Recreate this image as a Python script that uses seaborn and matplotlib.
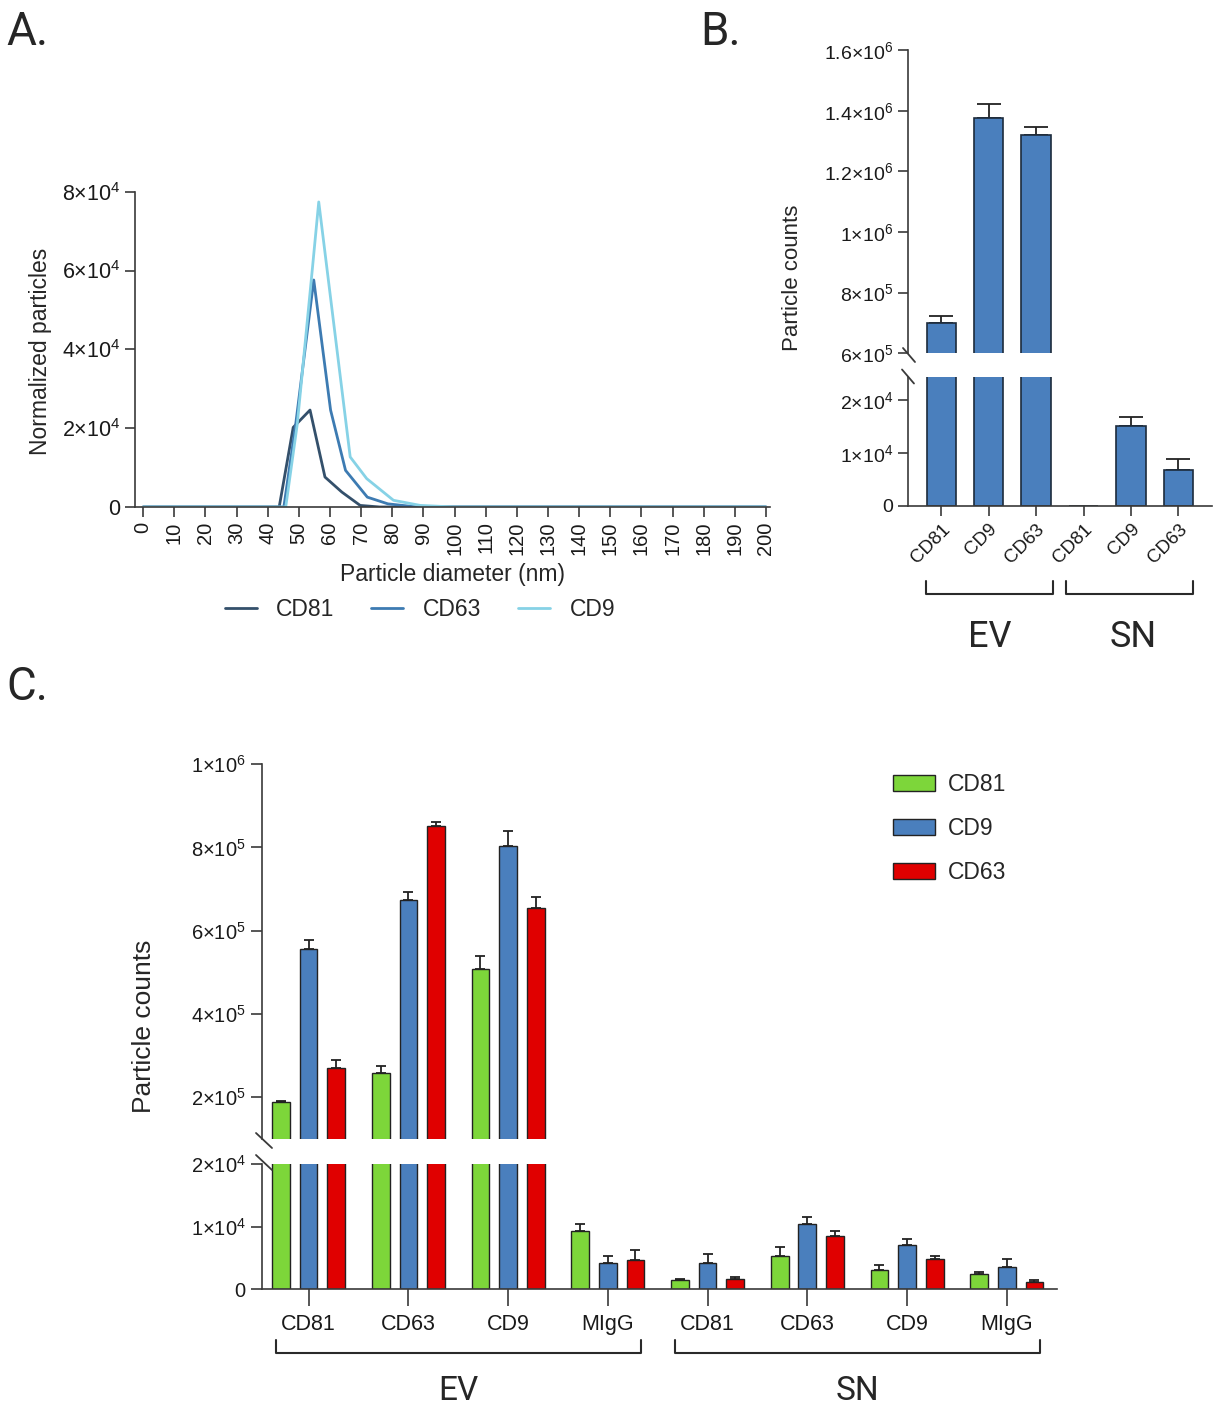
import numpy as np
import pandas as pd
import matplotlib
matplotlib.use("Agg")
import matplotlib.pyplot as plt
from matplotlib.lines import Line2D
import matplotlib.transforms as mtransforms
import seaborn as sns

# ---------------- Panel A data (NTA size distribution) ----------------
a_markers = ["CD81", "CD63", "CD9"]
cd81_diam = [0, 43.7, 48.2, 53.6, 58.4, 63.8, 69.7, 76, 200]
cd81_particles = [0, 0, 20200, 24600, 7600, 3800, 400, 0, 0]
cd63_diam = [0, 45.2, 49.0, 54.8, 60.2, 65.0, 72.0, 78.6, 88, 200]
cd63_particles = [0, 0, 21000, 57600, 24600, 9300, 2500, 800, 0, 0]
cd9_diam = [0, 45.8, 49.5, 54.3, 56.4, 66.5, 71.8, 80.4, 89, 100, 200]
cd9_particles = [0, 0, 21000, 60000, 77400, 12700, 7200, 1700, 400, 0, 0]
a_xticks = list(range(0, 201, 10))
a_yticks = [0, 20000, 40000, 60000, 80000]
a_ylabels = ["0", r"$2{\times}10^{4}$", r"$4{\times}10^{4}$", r"$6{\times}10^{4}$", r"$8{\times}10^{4}$"]

# ---------------- Panel B data ----------------
b_groups = ["EV", "EV", "EV", "SN", "SN", "SN"]
b_labels = ["CD81", "CD9", "CD63", "CD81", "CD9", "CD63"]
b_counts = [7.0e5, 1.375e6, 1.321e6, 0, 1.52e4, 6.8e3]
b_err = [2.2e4, 4.7e4, 2.6e4, 0, 1.6e3, 2.1e3]
b_top_ticks = [6e5, 8e5, 1e6, 1.2e6, 1.4e6, 1.6e6]
b_top_labels = [r"$6{\times}10^{5}$", r"$8{\times}10^{5}$", r"$1{\times}10^{6}$",
                r"$1.2{\times}10^{6}$", r"$1.4{\times}10^{6}$", r"$1.6{\times}10^{6}$"]
b_bot_ticks = [0, 1e4, 2e4]
b_bot_labels = ["0", r"$1{\times}10^{4}$", r"$2{\times}10^{4}$"]

# ---------------- Panel C data ----------------
c_groups = ["EV"] * 4 + ["SN"] * 4
c_targets = ["CD81", "CD63", "CD9", "MIgG", "CD81", "CD63", "CD9", "MIgG"]
c_markers = ["CD81", "CD9", "CD63"]
c_cd81 = [1.87e5, 2.57e5, 5.08e5, 9330, 1500, 5330, 3150, 2450]
c_cd81_err = [3e3, 1.7e4, 3.1e4, 1120, 150, 1500, 750, 320]
c_cd9 = [5.55e5, 6.74e5, 8.03e5, 4200, 4160, 10400, 7040, 3630]
c_cd9_err = [2.2e4, 2.0e4, 3.6e4, 1100, 1490, 1100, 960, 1270]
c_cd63 = [2.70e5, 8.52e5, 6.54e5, 4640, 1600, 8530, 4800, 1230]
c_cd63_err = [1.9e4, 9e3, 2.8e4, 1710, 300, 750, 530, 210]
c_top_ticks = [2e5, 4e5, 6e5, 8e5, 1e6]
c_top_labels = [r"$2{\times}10^{5}$", r"$4{\times}10^{5}$", r"$6{\times}10^{5}$",
                r"$8{\times}10^{5}$", r"$1{\times}10^{6}$"]
c_bot_ticks = [0, 1e4, 2e4]
c_bot_labels = ["0", r"$1{\times}10^{4}$", r"$2{\times}10^{4}$"]

# ---------------- style ----------------
sns.set_theme(style="ticks")
plt.rcParams["font.family"] = ["Liberation Sans", "DejaVu Sans"]
AXC = "#3a3a3a"
plt.rcParams.update({
    "mathtext.fontset": "custom",
    "mathtext.rm": "Liberation Sans",
    "mathtext.it": "Liberation Sans",
    "mathtext.bf": "Liberation Sans:bold",
    "axes.edgecolor": AXC, "axes.linewidth": 1.2,
    "xtick.color": AXC, "ytick.color": AXC,
    "xtick.labelcolor": "#1a1a1a", "ytick.labelcolor": "#1a1a1a",
    "xtick.major.width": 1.2, "ytick.major.width": 1.2,
})

W, H = 1221, 1408
fig = plt.figure(figsize=(W / 100, H / 100), dpi=100)


def fx(px):
    return px / W


def fy(py):
    return 1 - py / H


def add_axes_px(left, top, right, bottom):
    return fig.add_axes([fx(left), fy(bottom), (right - left) / W, (bottom - top) / H])


def break_mark(xc, yc, half_w=6, half_h=7):
    fig.add_artist(Line2D([fx(xc - half_w), fx(xc + half_w)], [fy(yc - half_h), fy(yc + half_h)],
                          transform=fig.transFigure, color=AXC, lw=1.3))


def add_error_bars(ax, container, errs, capsize, color="#222222"):
    for patch, e in zip(container.patches, errs):
        if e <= 0:
            continue
        x = patch.get_x() + patch.get_width() / 2
        h = patch.get_height()
        ax.errorbar([x], [h], yerr=[[0], [e]], fmt="none", ecolor=color,
                    elinewidth=1.3, capsize=capsize, capthick=1.3, zorder=0.5)


def bracket(ax, x0, x1, y_line, y_tip):
    tr = mtransforms.blended_transform_factory(ax.transData, fig.transFigure)
    ax.plot([x0, x0, x1, x1], [fy(y_tip), fy(y_line), fy(y_line), fy(y_tip)],
            transform=tr, color="#2a2a2a", lw=1.5, clip_on=False)


# ================= Panel A =================
axA = add_axes_px(135, 191.7, 770, 507)
dfA = pd.concat([
    pd.DataFrame({"diameter": cd81_diam, "particles": cd81_particles, "marker": "CD81"}),
    pd.DataFrame({"diameter": cd63_diam, "particles": cd63_particles, "marker": "CD63"}),
    pd.DataFrame({"diameter": cd9_diam, "particles": cd9_particles, "marker": "CD9"}),
], ignore_index=True)
palA = {"CD81": "#34506b", "CD63": "#3d7bb2", "CD9": "#86d2e6"}
sns.lineplot(data=dfA, x="diameter", y="particles", hue="marker", hue_order=a_markers,
             palette=palA, estimator=None, sort=False, lw=2.0, ax=axA, legend=False)
axA.set_xlim(-2.6, 201.3)
axA.set_ylim(0, 80000)
axA.set_xticks(a_xticks)
axA.set_xticklabels([str(t) for t in a_xticks], rotation=90, fontsize=14.5)
axA.set_yticks(a_yticks)
axA.set_yticklabels(a_ylabels, fontsize=15.5)
axA.tick_params(axis="both", length=7)
axA.set_xlabel("Particle diameter (nm)", fontsize=16.5, labelpad=6)
axA.set_ylabel("")
sns.despine(ax=axA)
fig.text(fx(41), fy(351), "Normalized particles", rotation=90, ha="center", va="center", fontsize=16.5)
axA.legend(handles=axA.lines[:3], labels=a_markers, loc="center",
           bbox_to_anchor=(fx(420), fy(610)), bbox_transform=fig.transFigure,
           ncol=3, frameon=False, fontsize=16.5, handlelength=1.4, columnspacing=1.6,
           handletextpad=0.85)

# ================= Panel B =================
dfB = pd.DataFrame({"key": [g + " " + l for g, l in zip(b_groups, b_labels)],
                    "count": b_counts})
BCOL = "#4a7fbd"
axBt = add_axes_px(908, 50, 1211.7, 353.3)
axBb = add_axes_px(908, 376.7, 1211.7, 506)
for ax in (axBt, axBb):
    sns.barplot(data=dfB, x="key", y="count", color=BCOL, width=0.62, errorbar=None,
                edgecolor="#1d2b3c", linewidth=1.2, saturation=1, ax=ax)
    add_error_bars(ax, ax.containers[0], b_err, capsize=8.3)
    ax.set_xlim(-0.7, 5.7)
    ax.set_xlabel("")
    ax.set_ylabel("")
    ax.tick_params(axis="both", length=7)
axBt.set_ylim(6e5, 1.6e6)
axBt.set_yticks(b_top_ticks)
axBt.set_yticklabels(b_top_labels, fontsize=14)
axBt.set_xticks([])
for s in ("top", "right", "bottom"):
    axBt.spines[s].set_visible(False)
axBb.set_ylim(0, 2.45e4)
axBb.set_yticks(b_bot_ticks)
axBb.set_yticklabels(b_bot_labels, fontsize=14)
axBb.set_xticks(range(len(b_labels)))
axBb.set_xticklabels(b_labels, rotation=45, ha="right", rotation_mode="anchor", fontsize=13.5)
for s in ("top", "right"):
    axBb.spines[s].set_visible(False)
break_mark(909, 355)
break_mark(908, 376.5)
fig.text(fx(792), fy(278), "Particle counts", rotation=90, ha="center", va="center", fontsize=16)
bracket(axBb, -0.32, 2.35, 594.3, 581)
bracket(axBb, 2.63, 5.3, 594.3, 581)
trB = mtransforms.blended_transform_factory(axBb.transData, fig.transFigure)
axBb.text(1.03, fy(646.7), "EV", transform=trB, ha="center", va="baseline", fontsize=26, family="Roboto")
axBb.text(4.04, fy(646.7), "SN", transform=trB, ha="center", va="baseline", fontsize=26, family="Roboto")

# ================= Panel C =================
rows = []
for i, (g, t) in enumerate(zip(c_groups, c_targets)):
    key = g + " " + t
    rows.append((key, "CD81", c_cd81[i]))
    rows.append((key, "CD9", c_cd9[i]))
    rows.append((key, "CD63", c_cd63[i]))
dfC = pd.DataFrame(rows, columns=["key", "marker", "count"])
palC = {"CD81": "#7dd63a", "CD9": "#4a7fbd", "CD63": "#e00000"}
c_errs = {"CD81": c_cd81_err, "CD9": c_cd9_err, "CD63": c_cd63_err}
axCt = add_axes_px(261.7, 764.3, 1056.7, 1138.6)
axCb = add_axes_px(261.7, 1164.3, 1056.7, 1289.3)
for ax in (axCt, axCb):
    sns.barplot(data=dfC, x="key", y="count", hue="marker", hue_order=c_markers,
                palette=palC, width=0.83, gap=0.36, errorbar=None, saturation=1,
                edgecolor="#222222", linewidth=1.0, ax=ax)
    for cont, m in zip(ax.containers, c_markers):
        add_error_bars(ax, cont, c_errs[m], capsize=3.3)
    ax.set_xlim(-0.47, 7.5)
    ax.set_xlabel("")
    ax.set_ylabel("")
    ax.tick_params(axis="both", length=8)
axCt.set_ylim(1e5, 1e6)
axCt.set_yticks(c_top_ticks)
axCt.set_yticklabels(c_top_labels, fontsize=14.5)
axCt.set_xticks([])
for s in ("top", "right", "bottom"):
    axCt.spines[s].set_visible(False)
axCb.set_ylim(0, 2e4)
axCb.set_yticks(c_bot_ticks)
axCb.set_yticklabels(c_bot_labels, fontsize=14.5)
axCb.set_xticks(range(len(c_targets)))
axCb.set_xticklabels(c_targets, fontsize=15.5)
axCb.tick_params(axis="x", length=12, pad=6)
for s in ("top", "right"):
    axCb.spines[s].set_visible(False)
axCb.get_legend().remove()
leg = axCt.get_legend()
handles = leg.legend_handles
leg.remove()
axCt.legend(handles=handles, labels=c_markers, loc="upper left",
            bbox_to_anchor=(fx(893), fy(773)), bbox_transform=fig.transFigure,
            frameon=False, fontsize=16.5, handlelength=1.85, handleheight=0.7,
            handletextpad=0.55, labelspacing=0.92, borderpad=0, borderaxespad=0)
break_mark(264, 1140.5, 8, 7.5)
break_mark(264, 1162.5, 8, 7.5)
fig.text(fx(144), fy(1026), "Particle counts", rotation=90, ha="center", va="center", fontsize=19)
bracket(axCb, -0.33, 3.33, 1352.7, 1340)
bracket(axCb, 3.67, 7.33, 1352.7, 1340)
trC = mtransforms.blended_transform_factory(axCb.transData, fig.transFigure)
axCb.text(1.5, fy(1400), "EV", transform=trC, ha="center", va="baseline", fontsize=24, family="Roboto")
axCb.text(5.5, fy(1400), "SN", transform=trC, ha="center", va="baseline", fontsize=24, family="Roboto")

# panel letters
fig.text(fx(6), fy(45), "A.", fontsize=33, family="Roboto", va="baseline")
fig.text(fx(700), fy(45), "B.", fontsize=33, family="Roboto", va="baseline")
fig.text(fx(6), fy(700), "C.", fontsize=33, family="Roboto", va="baseline")

fig.savefig("out.png", dpi=100)
